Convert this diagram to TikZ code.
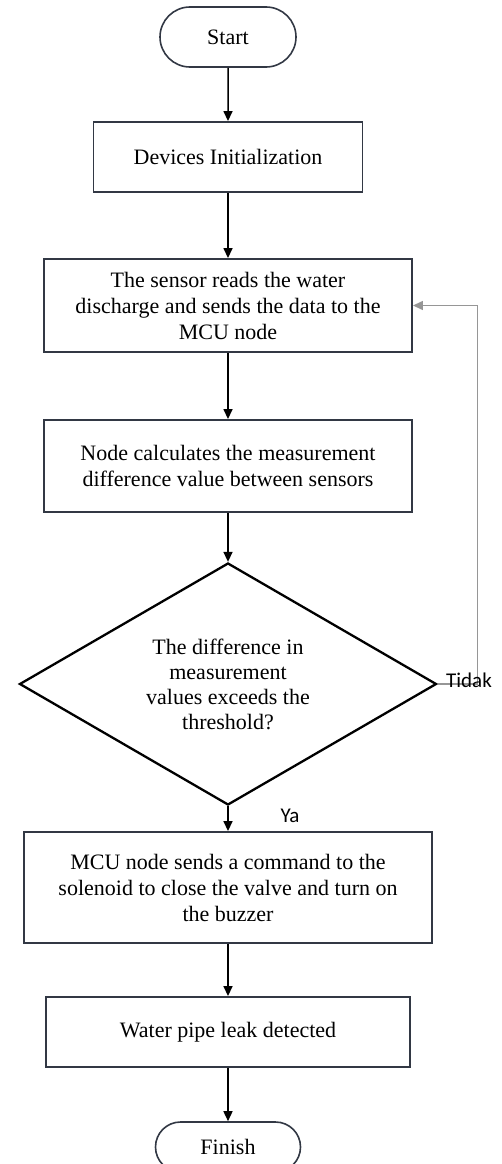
\documentclass[tikz,border=0pt]{standalone}
\usepackage{fontspec}
\setmainfont{Liberation Serif}
\newfontfamily\labelfont{Carlito}
\usetikzlibrary{arrows.meta}
\usetikzlibrary{shapes.geometric}
\usetikzlibrary{shapes.misc}

\definecolor{boxline}{RGB}{50,56,68}
\definecolor{loopline}{RGB}{150,150,150}

\begin{document}
\begin{tikzpicture}[x=1pt, y=-1pt,
  terminal/.style={draw=boxline, line width=1.6pt, rounded rectangle, inner sep=0pt, font=\fontsize{22}{26}\selectfont},
  process/.style={draw=boxline, line width=1.9pt, rectangle, align=center, inner sep=0pt, font=\fontsize{22}{26}\selectfont},
  decision/.style={draw=black, line width=2.3pt, diamond, align=center, inner sep=0pt, font=\fontsize{22}{25}\selectfont},
  flow/.style={line width=1.5pt, -{Triangle[width=9pt,length=10pt]}},
  loopback/.style={draw=loopline, line width=1.4pt, -{Triangle[width=9pt,length=10pt]}},
  answer/.style={font=\labelfont\fontsize{21}{24}\selectfont}]
\useasboundingbox (0,0) rectangle (501,1164);

\node (start) [terminal, minimum width=136pt, minimum height=60pt] at (228,37) {Start};
\node (init) [process, minimum width=269pt, minimum height=70pt] at (228,157) {Devices Initialization};
\node (read) [process, minimum width=368pt, minimum height=93pt] at (228,305.5) {The sensor reads the water\\discharge and sends the data to the\\MCU node};
\node (calc) [process, minimum width=368pt, minimum height=92pt] at (228,466) {Node calculates the measurement\\difference value between sensors};
\node (check) [decision, minimum width=417pt, minimum height=242pt, aspect=1.72] at (228,684) {The difference in\\measurement\\values exceeds the\\threshold?};
\node (alert) [process, minimum width=408pt, minimum height=111pt] at (228,887.5) {MCU node sends a command to the\\solenoid to close the valve and turn on\\the buzzer};
\node (leak) [process, minimum width=364pt, minimum height=70pt] at (228,1032) {Water pipe leak detected};
\node (finish) [terminal, minimum width=145pt, minimum height=50pt] at (228,1147) {Finish};

\draw [flow] (start) -- (init);
\draw [flow] (init) -- (read);
\draw [flow] (read) -- (calc);
\draw [flow] (calc) -- (check);
\draw [flow] (check) -- (alert);
\draw [flow] (alert) -- (leak);
\draw [flow] (leak) -- (finish);

% no: back to the sensor reading
\draw [loopback] (check.east) -- ++(40,0) |- (read.east);

\node (no) [answer] at (469,680) {Tidak};
\node (yes) [answer] at (290,816) {Ya};
\end{tikzpicture}
\end{document}
